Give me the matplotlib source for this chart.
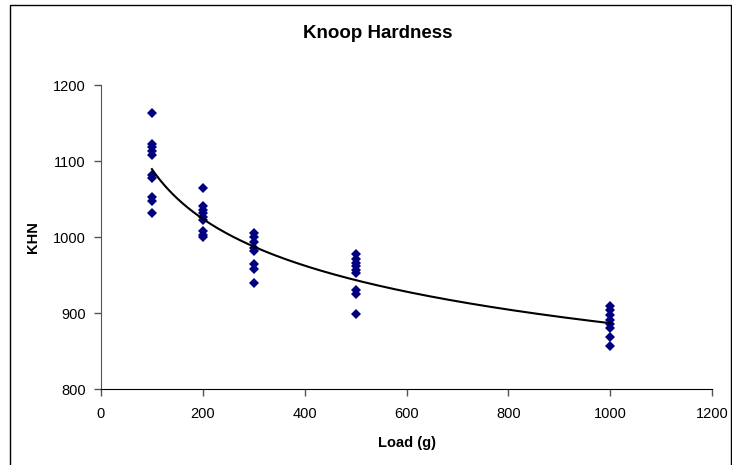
import numpy as np
import matplotlib
matplotlib.use("Agg")
import matplotlib.pyplot as plt
from matplotlib.patches import Rectangle

plt.rcParams['font.family'] = ['Liberation Sans', 'DejaVu Sans']

# Data
load_100 = [1163, 1122, 1118, 1113, 1108, 1082, 1078, 1052, 1047, 1032]
load_200 = [1064, 1041, 1036, 1031, 1026, 1022, 1008, 1003, 1000]
load_300 = [1005, 1000, 993, 985, 981, 965, 958, 940]
load_500 = [977, 971, 966, 962, 957, 953, 930, 925, 899]
load_1000 = [909, 904, 897, 891, 885, 880, 869, 856]
loads = [100, 200, 300, 500, 1000]
groups = [load_100, load_200, load_300, load_500, load_1000]

x_ticks = [0, 200, 400, 600, 800, 1000, 1200]
y_ticks = [800, 900, 1000, 1100, 1200]

xs = np.concatenate([[l] * len(g) for l, g in zip(loads, groups)])
ys = np.concatenate(groups)

# Power trendline (log-log least squares, as in a spreadsheet trendline)
b, loga = np.polyfit(np.log(xs), np.log(ys), 1)
xfit = np.linspace(100, 1000, 300)
yfit = np.exp(loga) * xfit ** b

fig = plt.figure(figsize=(7.32, 4.65), dpi=100)
fig.patches.append(Rectangle((10 / 732, -0.01), 721 / 732, 1 - 5 / 465 + 0.01,
                             transform=fig.transFigure, fill=False,
                             edgecolor='black', linewidth=1.0))
ax = fig.add_axes([101 / 732, 1 - 389 / 465, 611 / 732, 304 / 465])

ax.plot(xs, ys, linestyle='none', marker='D', markersize=5,
        color='#000080', markeredgewidth=0)
ax.plot(xfit, yfit, color='black', linewidth=1.5)

ax.set_xlim(0, 1200)
ax.set_ylim(800, 1200)
ax.set_xticks(x_ticks)
ax.set_yticks(y_ticks)
ax.tick_params(axis='both', direction='out', length=5, width=1,
               labelsize=10.5, color='#555555')
ax.tick_params(axis='x', pad=8)
ax.tick_params(axis='y', pad=6)
for s in ['top', 'right']:
    ax.spines[s].set_visible(False)
ax.spines['left'].set_color('#555555')
ax.spines['bottom'].set_color('black')

ax.set_xlabel('Load (g)', fontsize=10.5, fontweight='bold', labelpad=11)
ax.set_ylabel('KHN', fontsize=10.5, fontweight='bold', labelpad=9)
fig.text(378 / 732, 1 - 33 / 465, 'Knoop Hardness', ha='center', va='center',
         fontsize=13.5, fontweight='bold')

fig.savefig('out.png', dpi=100)
